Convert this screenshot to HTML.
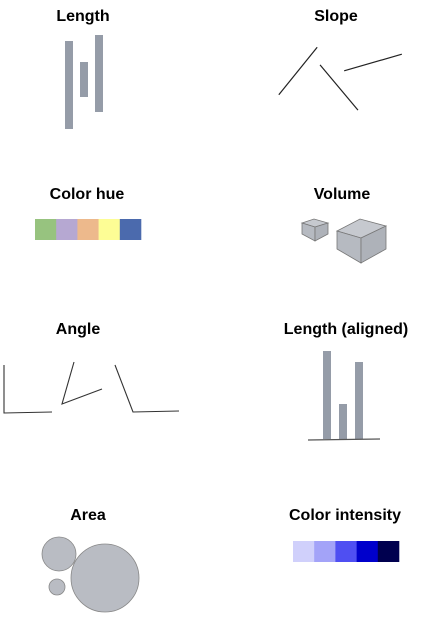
<!DOCTYPE html>
<html><head><meta charset="utf-8"><style>
html,body{margin:0;padding:0;background:#fff;}
svg{display:block;}
text{font-family:"Liberation Sans",Arial,sans-serif;font-weight:bold;font-size:16px;fill:#000;text-anchor:middle;}
</style></head><body>
<svg width="423" height="623" viewBox="0 0 423 623">
<g>
<text x="83" y="21">Length</text>
<g id="lenBars" fill="#959ca8"></g>
</g>
<g>
<text x="336" y="21">Slope</text>
<g id="slopeLines" stroke="#222" stroke-width="1.2"></g>
</g>
<g>
<text x="87" y="199">Color hue</text>
<g id="hueSq"></g>
</g>
<g>
<text x="342" y="199">Volume</text>
<g stroke="#777" stroke-width="0.8">
<polygon points="302,223 314,219 328,223 315,227" fill="#c6c9cf"/>
<polygon points="302,223 315,227 315,241 302,234" fill="#b6bac1"/>
<polygon points="315,227 328,223 328,234 315,241" fill="#aeb2b9"/>
</g>
<g stroke="#777" stroke-width="0.8">
<polygon points="337,231 360,219 386,226 361,238" fill="#c6c9cf"/>
<polygon points="337,231 361,238 361,263 337,249" fill="#b6bac1"/>
<polygon points="361,238 386,226 386,249 361,263" fill="#aeb2b9"/>
</g>
</g>
<g>
<text x="78" y="334">Angle</text>
<g fill="none" stroke="#333" stroke-width="1.1">
<polyline points="4,365 4,413 52,412"/>
<polyline points="74,362 62,404 102,389"/>
<polyline points="115,365 133,412 179,411"/>
</g>
</g>
<g>
<text x="346" y="334">Length (aligned)</text>
<g id="alignBars" fill="#959ca8"></g>
<line x1="308" y1="440" x2="380" y2="439" stroke="#555" stroke-width="1.2"/>
</g>
<g>
<text x="88" y="520">Area</text>
<g id="circles" fill="#b9bcc3" stroke="#888" stroke-width="0.8"></g>
</g>
<g>
<text x="345" y="520">Color intensity</text>
<g id="intSq"></g>
</g>
</svg>
<script>
const NS="http://www.w3.org/2000/svg";
const lenTops=[41,62,35];
const lenBottoms=[129,97,112];
const alignValues=[88,35,77];
const hueColors=["#97c37f","#b6a8d2","#edb98c","#fdfd95","#4b6aad"];
const intensityColors=["#d0d0fb","#a3a3f8","#4f4ff2","#0000cc","#00004f"];
const areaRadii=[17,8,34];
const slopeAngles=[-51,50,-16];
function mk(t,a){const e=document.createElementNS(NS,t);for(const k in a)e.setAttribute(k,a[k]);return e;}
const lb=document.getElementById('lenBars');
lenTops.forEach((t,i)=>{const r=mk('rect',{x:65+i*15,y:t,width:8,height:lenBottoms[i]-t});

lb.appendChild(r);});
const ab=document.getElementById('alignBars');
alignValues.forEach((v,i)=>{const r=mk('rect',{x:323+i*16,y:439-v,width:8,height:v});

ab.appendChild(r);});
const sl=document.getElementById('slopeLines');
const sc=[[298,71,61],[339,87.5,59],[373,62.5,60]];
slopeAngles.forEach((a,i)=>{const rad=a*Math.PI/180,h=sc[i][2]/2;const dx=Math.cos(rad)*h,dy=Math.sin(rad)*h;
const l=mk('line',{x1:sc[i][0]-dx,y1:sc[i][1]-dy,x2:sc[i][0]+dx,y2:sc[i][1]+dy});

sl.appendChild(l);});
function squares(id,cols,x0){const g=document.getElementById(id);cols.forEach((c,i)=>{const r=mk('rect',{x:x0+i*21.2,y:id==='hueSq'?219:541,width:21.5,height:21,fill:c});

g.appendChild(r);});}
squares('hueSq',hueColors,35);
squares('intSq',intensityColors,293);
const cg=document.getElementById('circles');
const cc=[[59,554],[57,587],[105,578]];
areaRadii.forEach((r,i)=>{const c=mk('circle',{cx:cc[i][0],cy:cc[i][1],r:r});

cg.appendChild(c);});
</script>
</body></html>
